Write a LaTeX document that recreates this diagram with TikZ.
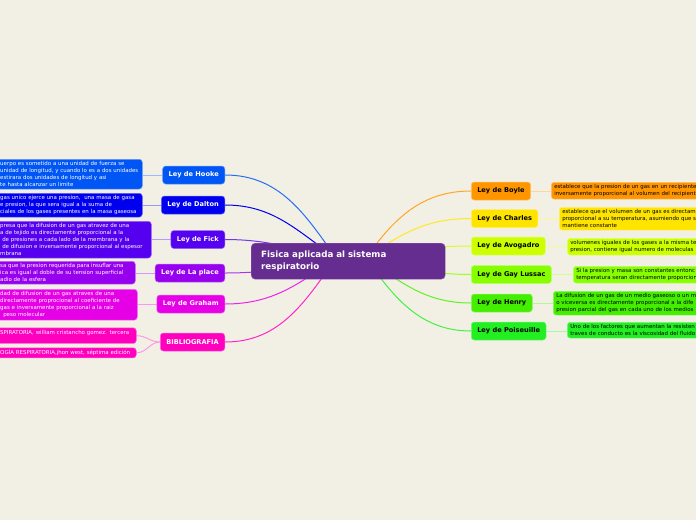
\documentclass[tikz,border=0pt]{standalone}
\usepackage{fontspec}
\setmainfont{DejaVu Sans}
\pgfdeclarelayer{background}
\pgfsetlayers{background,main}

\definecolor{paper}{RGB}{242,240,228}
\definecolor{rootc}{RGB}{102,45,145}
\definecolor{hookec}{RGB}{0,85,245}
\definecolor{daltonc}{RGB}{0,0,238}
\definecolor{fickc}{RGB}{85,0,238}
\definecolor{laplacec}{RGB}{150,0,238}
\definecolor{grahamc}{RGB}{230,0,230}
\definecolor{biblioc}{RGB}{255,0,190}
\definecolor{boylec}{RGB}{255,150,0}
\definecolor{charlesc}{RGB}{255,228,0}
\definecolor{avogadroc}{RGB}{204,255,0}
\definecolor{gaylussacc}{RGB}{136,255,0}
\definecolor{henryc}{RGB}{68,238,0}
\definecolor{poiseuillec}{RGB}{34,238,34}

\begin{document}
\begin{tikzpicture}[
    x=1pt, y=1pt,
    root/.style={
      rounded corners=4pt,
      fill=rootc, draw=rootc!75!white,
      text=white, anchor=north west, align=left,
      text width=174pt, inner xsep=10pt, minimum height=36pt,
      font=\bfseries\fontsize{8.7}{11.5}\selectfont
    },
    topic/.style={
      rounded corners=3pt,
      fill=#1, draw=#1!60!white, line width=0.5pt,
      minimum height=18pt, inner xsep=6pt, inner ysep=2pt,
      font=\bfseries\fontsize{6.6}{7}\selectfont
    },
    lefttopic/.style={topic=#1, anchor=east, text=white},
    righttopic/.style={topic=#1, anchor=west, text=black},
    detail/.style={
      rounded corners=3pt,
      fill=#1, draw=#1!60!white, line width=0.5pt,
      align=left, anchor=north west,
      inner xsep=3pt, inner ysep=2.3pt,
      font=\fontsize{5.45}{7}\selectfont
    },
    leftdetail/.style={detail=#1, text=white},
    rightdetail/.style={detail=#1, text=black, text width=200pt},
    branch/.style={line width=1pt},
    twig/.style={line width=1pt}
  ]
    \useasboundingbox (0,0) rectangle (696,-520);
    \clip (0,0) rectangle (696,-520);

    \node[root] (root) at (251,-243) {Fisica aplicada al sistema\\respiratorio};
    \coordinate (cl) at (336,-258);
    \coordinate (cr) at (366,-258);

    % left side
    \node[lefttopic=hookec] (hooke) at (225,-175) {Ley de Hooke};
    \node[lefttopic=daltonc] (dalton) at (225,-205) {Ley de Dalton};
    \node[lefttopic=fickc] (fick) at (225,-239.5) {Ley de Fick};
    \node[lefttopic=laplacec] (laplace) at (225,-273) {Ley de La place};
    \node[lefttopic=grahamc] (graham) at (225,-304) {Ley de Graham};
    \node[lefttopic=biblioc] (biblio) at (225,-342) {BIBLIOGRAFIA};

    \node[leftdetail=hookec, text width=139pt] (hookeinfo) at (-3,-159)
      {uerpo es sometido a una unidad de fuerza se\\
       unidad de longitud, y cuando lo es a dos unidades\\
       estirara dos unidades de longitud y asi\\
       te hasta alcanzar un limite};
    \node[leftdetail=daltonc, text width=139pt] (daltoninfo) at (-3,-193)
      {gas unico ejerce una presion,\ \ una masa de gasa\\
       e presion, la que sera igual a la suma de\\
       ciales de los gases presentes en la masa gaseosa};
    \node[leftdetail=fickc, text width=148pt] (fickinfo) at (-3,-221)
      {presa que la difusion de un gas atravez de una\\
       a de tejido es directamente proporcional a la\\
       \hspace*{2pt}de presiones a cada lado de la membrana y la\\
       \hspace*{2pt}de difusion e inversamente proporcional al espesor\\
       mbrana};
    \node[leftdetail=laplacec, text width=132pt] (laplaceinfo) at (-3,-261)
      {sa que la presion requerida para insuflar una\\
       ica es igual al doble de su tension superficial\\
       adio de la esfera};
    \node[leftdetail=grahamc, text width=134pt] (grahaminfo) at (-3,-289)
      {dad de difusion de un gas atraves de una\\
       directamente proprocional al coeficiente de\\
       gas e inversamente proporcional a la raiz\\
       \hspace*{3pt}peso molecular};
    \node[leftdetail=biblioc, text width=133pt, text depth=7pt] (biblioinfoa) at (-3,-327.5)
      {SPIRATORIA, william cristancho gomez. tercera};
    \node[leftdetail=biblioc, text width=133pt, inner ysep=2pt] (biblioinfob) at (-3,-347.5)
      {OGÍA RESPIRATORIA,jhon west, séptima edición};

    % right side
    \node[righttopic=boylec] (boyle) at (471,-191) {Ley de Boyle};
    \node[righttopic=charlesc] (charles) at (471,-218.5) {Ley de Charles};
    \node[righttopic=avogadroc] (avogadro) at (471,-246) {Ley de Avogadro};
    \node[righttopic=gaylussacc] (gaylussac) at (471,-274.5) {Ley de Gay Lussac};
    \node[righttopic=henryc] (henry) at (471,-303) {Ley de Henry};
    \node[righttopic=poiseuillec] (poiseuille) at (471,-331) {Ley de Poiseuille};

    \node[rightdetail=boylec] (boyleinfo) at (551,-182)
      {establece que la presion de un gas en un recipiente\\
       inversamente proporcional al volumen del recipient};
    \node[rightdetail=charlesc] (charlesinfo) at (559,-207)
      {establece que el volumen de un gas es directam\\
       proporcional a su temperatura, asumiendo que s\\
       mantiene constante};
    \node[rightdetail=avogadroc] (avogadroinfo) at (567,-238)
      {volumenes iguales de los gases a la misma te\\
       presion, contiene igual numero de moleculas};
    \node[rightdetail=gaylussacc] (gaylussacinfo) at (573,-266)
      {Si la presion y masa son constantes entonc\\
       temperatura seran directamente proporcion};
    \node[rightdetail=henryc] (henryinfo) at (553,-291)
      {La difusion de un gas de un medio gaseoso o un m\\
       o viceversa es directamente proporcional a la dife\\
       presion parcial del gas en cada uno de los medios};
    \node[rightdetail=poiseuillec] (poiseuilleinfo) at (567,-322)
      {Uno de los factores que aumentan la resisten\\
       traves de conducto es la viscosidad del fluido};

    \begin{pgfonlayer}{background}
      \fill[paper] (0,0) rectangle (696,-520);
      % branches from the root
      \draw[branch, hookec!85!white] (cl) to[out=125, in=0] (hooke.east);
      \draw[branch, daltonc] (cl) to[out=145, in=0] (dalton.east);
      \draw[branch, fickc!80!white] (cl) to[out=168, in=0] (fick.east);
      \draw[branch, laplacec!80!white] (cl) to[out=192, in=0] (laplace.east);
      \draw[branch, grahamc!85!white] (cl) to[out=215, in=0] (graham.east);
      \draw[branch, biblioc!85!white] (cl) to[out=235, in=0] (biblio.east);
      \draw[branch, boylec!85!white] (cr) to[out=55, in=180] (boyle.west);
      \draw[branch, charlesc!85!white] (cr) to[out=35, in=180] (charles.west);
      \draw[branch, avogadroc!85!white] (cr) to[out=10, in=180] (avogadro.west);
      \draw[branch, gaylussacc!85!white] (cr) to[out=-12, in=180] (gaylussac.west);
      \draw[branch, henryc!85!white] (cr) to[out=-35, in=180] (henry.west);
      \draw[branch, poiseuillec!85!white] (cr) to[out=-55, in=180] (poiseuille.west);
      % twigs to the notes
      \draw[twig, hookec!40!white] (hooke.west) -- (hooke.west -| hookeinfo.east);
      \draw[twig, daltonc!40!white] (dalton.west) -- (dalton.west -| daltoninfo.east);
      \draw[twig, fickc!40!white] (fick.west) -- (fick.west -| fickinfo.east);
      \draw[twig, laplacec!40!white] (laplace.west) -- (laplace.west -| laplaceinfo.east);
      \draw[twig, grahamc!40!white] (graham.west) -- (graham.west -| grahaminfo.east);
      \draw[twig, biblioc!40!white] (biblio.west) to[out=180, in=0] (biblioinfoa.east);
      \draw[twig, biblioc!40!white] (biblio.west) to[out=180, in=0] (biblioinfob.east);
      \draw[twig, boylec!40!white] (boyle.east) -- (boyle.east -| boyleinfo.west);
      \draw[twig, charlesc!40!white] (charles.east) -- (charles.east -| charlesinfo.west);
      \draw[twig, avogadroc!40!white] (avogadro.east) -- (avogadro.east -| avogadroinfo.west);
      \draw[twig, gaylussacc!40!white] (gaylussac.east) -- (gaylussac.east -| gaylussacinfo.west);
      \draw[twig, henryc!40!white] (henry.east) -- (henry.east -| henryinfo.west);
      \draw[twig, poiseuillec!40!white] (poiseuille.east) -- (poiseuille.east -| poiseuilleinfo.west);
    \end{pgfonlayer}
  \end{tikzpicture}
\end{document}
